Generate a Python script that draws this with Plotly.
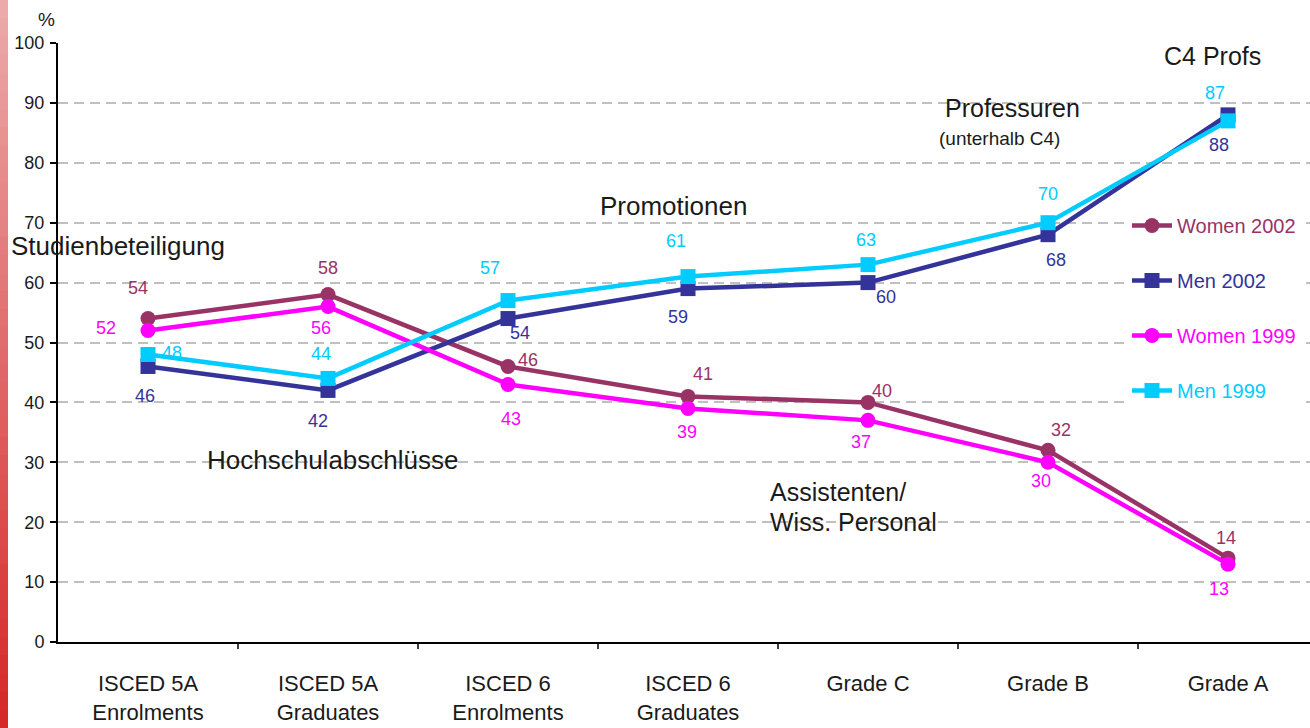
import plotly.graph_objects as go

categories = ["ISCED 5A<br>Enrolments", "ISCED 5A<br>Graduates", "ISCED 6<br>Enrolments",
              "ISCED 6<br>Graduates", "Grade C", "Grade B", "Grade A"]
women_2002 = [54, 58, 46, 41, 40, 32, 14]
men_2002 = [46, 42, 54, 59, 60, 68, 88]
women_1999 = [52, 56, 43, 39, 37, 30, 13]
men_1999 = [48, 44, 57, 61, 63, 70, 87]
y_ticks = [0, 10, 20, 30, 40, 50, 60, 70, 80, 90, 100]

series = [
    ("Women 2002", women_2002, "#993366", "circle"),
    ("Men 2002", men_2002, "#333399", "square"),
    ("Women 1999", women_1999, "#FF00FF", "circle"),
    ("Men 1999", men_1999, "#00CCFF", "square"),
]

# label offsets (pixels: dx right, dy up) per series per point
label_offsets = {
    "Women 2002": [(-10, 31), (0, 27), (20, 6), (15, 22), (14, 11), (13, 20), (-2, 20)],
    "Men 2002": [(-3, -30), (-10, -31), (12, -14), (-10, -28), (18, -14), (8, -25), (-9, -30)],
    "Women 1999": [(-42, 3), (-7, -21), (3, -35), (-1, -24), (-7, -22), (-7, -19), (-9, -25)],
    "Men 1999": [(24, 1), (-7, 24), (-18, 33), (-12, 36), (-2, 25), (0, 29), (-13, 28)],
}

W, H = 1310, 728
ML, MR, MT, MB = 58, 0, 43, 86
pw = W - ML - MR
ph = H - MT - MB

FONT = "Liberation Sans, Arial, sans-serif"

fig = go.Figure()
for i, (name, vals, color, sym) in enumerate(series):
    fig.add_trace(go.Scatter(
        x=list(range(len(categories))), y=vals, mode="lines+markers",
        name=f'<span style="color:{color}">{name}</span>',
        legendgroup=f"g{i}",
        line=dict(color=color, width=4.5),
        marker=dict(color=color, size=15, symbol=sym),
    ))

annotations = []
for name, vals, color, sym in series:
    for j, v in enumerate(vals):
        dx, dy = label_offsets[name][j]
        annotations.append(dict(
            x=j, y=v, xref="x", yref="y", text=str(v), showarrow=False,
            xshift=dx, yshift=dy, font=dict(family=FONT, size=18, color=color),
        ))

def px_to_paper_x(px):
    return (px - ML) / pw

def px_to_paper_y(py):
    return 1 - (py - MT) / ph

text_notes = [
    ("Studienbeteiligung", px_to_paper_x(9), px_to_paper_y(246), "left", 26),
    ("Hochschulabschlüsse", px_to_paper_x(332), px_to_paper_y(460), "center", 26),
    ("Promotionen", px_to_paper_x(673), px_to_paper_y(206), "center", 26),
    ("Professuren", px_to_paper_x(1012), px_to_paper_y(108), "center", 25),
    ("(unterhalb C4)", px_to_paper_x(1000), px_to_paper_y(138), "center", 19),
    ("C4 Profs", px_to_paper_x(1212), px_to_paper_y(56), "center", 25),
    ("Assistenten/", px_to_paper_x(768), px_to_paper_y(492), "left", 25),
    ("Wiss. Personal", px_to_paper_x(768), px_to_paper_y(522), "left", 25),
    ("%", px_to_paper_x(46), px_to_paper_y(20), "center", 19),
]
for t, x, y, xa, fs in text_notes:
    annotations.append(dict(
        x=x, y=y, xref="paper", yref="paper", text=t, showarrow=False,
        xanchor=xa, yanchor="middle", font=dict(family=FONT, size=fs, color="#1a1a1a"),
    ))

# red gradient strip on the left edge
shapes = []
n = 40
c_top = (236, 170, 170)
c_bot = (214, 40, 40)
for k in range(n):
    t = k / (n - 1)
    c = tuple(int(c_top[m] + (c_bot[m] - c_top[m]) * t) for m in range(3))
    y0 = H * k / n
    y1 = H * (k + 1) / n + 1
    shapes.append(dict(
        type="rect", xref="paper", yref="paper",
        x0=px_to_paper_x(0), x1=px_to_paper_x(8),
        y0=px_to_paper_y(y1), y1=px_to_paper_y(y0),
        fillcolor="rgb(%d,%d,%d)" % c, line=dict(width=0), layer="below",
    ))

# boundary ticks on x axis
for b in range(len(categories) - 1):
    shapes.append(dict(type="line", xref="x", yref="paper", x0=b + 0.5, x1=b + 0.5,
                       y0=0, y1=-7 / ph, line=dict(color="black", width=1.5)))

fig.update_layout(
    width=W, height=H,
    margin=dict(l=ML, r=MR, t=MT, b=MB, autoexpand=False),
    paper_bgcolor="white", plot_bgcolor="white",
    font=dict(family=FONT, color="#1a1a1a"),
    showlegend=True,
    legend=dict(
        x=px_to_paper_x(1127), y=px_to_paper_y(206), xanchor="left", yanchor="top",
        bgcolor="white", font=dict(family=FONT, size=20),
        tracegroupgap=26, itemwidth=40,
    ),
    annotations=annotations,
    shapes=shapes,
    xaxis=dict(
        type="linear", range=[-0.5, -0.5 + pw / 180],
        tickmode="array", tickvals=list(range(len(categories))), ticktext=categories,
        ticks="", showgrid=False, zeroline=False,
        showline=True, linecolor="black", linewidth=2,
        tickfont=dict(family=FONT, size=22, color="#1a1a1a"),
        ticklabelstandoff=21,
        fixedrange=True,
    ),
    yaxis=dict(
        range=[0, 100], tickvals=y_ticks, ticks="outside", ticklen=6, tickwidth=1.5,
        tickcolor="black", showline=True, linecolor="black", linewidth=2,
        showgrid=True, gridcolor="#c0c0c0", griddash="10px,6px", gridwidth=1.5,
        zeroline=False, tickfont=dict(family=FONT, size=18, color="#1a1a1a"),
        ticklabelstandoff=2, fixedrange=True,
    ),
)

fig.write_html("out.html", config={"displayModeBar": False},
               post_script="document.body.style.margin='0';document.body.style.padding='0';")
